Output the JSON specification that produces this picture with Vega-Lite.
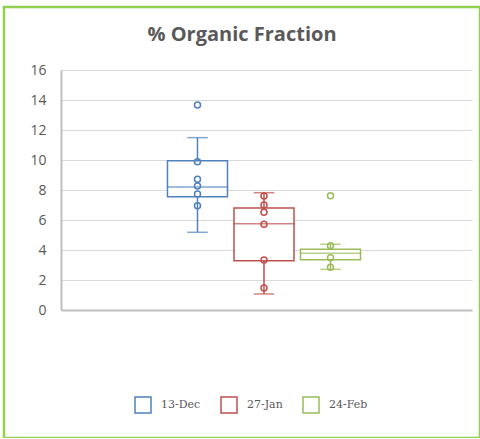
{
  "$schema": "https://vega.github.io/schema/vega-lite/v6.json",
  "autosize": "none",
  "padding": {"left": 4, "top": 7, "right": 0, "bottom": 0},
  "width": 476,
  "height": 431,
  "background": "white",
  "config": {
    "view": {"stroke": "#92D050", "strokeWidth": 2.5, "fill": "white"},
    "font": "Open Sans",
    "legend": {
      "title": null,
      "orient": "none",
      "legendX": 130,
      "legendY": 389,
      "direction": "horizontal",
      "padding": 0,
      "symbolType": "square",
      "symbolSize": 256,
      "symbolStrokeWidth": 1.5,
      "symbolFillColor": "white",
      "labelFont": "DejaVu Serif",
      "labelFontSize": 11,
      "labelColor": "#595959",
      "labelOffset": 9,
      "columnPadding": 17
    }
  },
  "title": {
    "text": "% Organic Fraction",
    "font": "Open Sans",
    "fontSize": 20,
    "fontWeight": "bold",
    "color": "#595959",
    "anchor": "middle",
    "frame": "group",
    "offset": -38
  },
  "datasets": {
    "boxes": [
      {"date": "13-Dec", "lo": 5.18, "q1": 7.55, "median": 8.2, "q3": 9.95, "hi": 11.49},
      {"date": "27-Jan", "lo": 1.07, "q1": 3.29, "median": 5.75, "q3": 6.8, "hi": 7.82},
      {"date": "24-Feb", "lo": 2.71, "q1": 3.35, "median": 3.78, "q3": 4.05, "hi": 4.38}
    ],
    "points": [
      {"date": "13-Dec", "value": 13.67},
      {"date": "13-Dec", "value": 9.89},
      {"date": "13-Dec", "value": 8.71},
      {"date": "13-Dec", "value": 8.27},
      {"date": "13-Dec", "value": 7.73},
      {"date": "13-Dec", "value": 6.95},
      {"date": "27-Jan", "value": 7.6},
      {"date": "27-Jan", "value": 7.0},
      {"date": "27-Jan", "value": 6.51},
      {"date": "27-Jan", "value": 5.71},
      {"date": "27-Jan", "value": 3.33},
      {"date": "27-Jan", "value": 1.47},
      {"date": "24-Feb", "value": 7.62},
      {"date": "24-Feb", "value": 4.29},
      {"date": "24-Feb", "value": 3.49},
      {"date": "24-Feb", "value": 2.85}
    ]
  },
  "encoding": {
    "x": {
      "field": "date",
      "type": "nominal",
      "scale": {
        "type": "band",
        "domain": ["_left", "13-Dec", "27-Jan", "24-Feb", "_right"],
        "range": [57, 468],
        "paddingInner": 0,
        "paddingOuter": 0.59,
        "align": 0.468
      },
      "axis": {
        "orient": "bottom",
        "offset": -128,
        "labels": false,
        "ticks": false,
        "title": null,
        "grid": false,
        "domainColor": "#BFBFBF",
        "domainWidth": 2
      }
    },
    "stroke": {
      "field": "date",
      "type": "nominal",
      "scale": {"domain": ["13-Dec", "27-Jan", "24-Feb"], "range": ["#4F81BD", "#C0504D", "#9BBB59"]}
    }
  },
  "layer": [
    {
      "data": {"name": "boxes"},
      "mark": {"type": "rule", "strokeWidth": 1.5},
      "encoding": {
        "y": {
          "field": "lo",
          "type": "quantitative",
          "scale": {"domain": [0, 16], "range": [303, 63], "nice": false, "zero": true},
          "axis": {
            "orient": "left",
            "offset": -57,
            "values": [0, 2, 4, 6, 8, 10, 12, 14, 16],
            "title": null,
            "grid": true,
            "gridColor": "#D9D9D9",
            "gridWidth": 1,
            "ticks": false,
            "domainColor": "#BFBFBF",
            "domainWidth": 2,
            "labelPadding": 15,
            "labelColor": "#595959",
            "labelFont": "Open Sans",
            "labelFontSize": 14
          }
        },
        "y2": {"field": "hi"}
      }
    },
    {
      "data": {"name": "boxes"},
      "mark": {"type": "bar", "size": 60, "fill": "white", "strokeWidth": 1.5},
      "encoding": {
        "y": {"field": "q1", "type": "quantitative"},
        "y2": {"field": "q3"}
      }
    },
    {
      "data": {"name": "boxes"},
      "mark": {"type": "tick", "size": 60, "thickness": 0.01, "filled": false, "strokeWidth": 1.5},
      "encoding": {
        "y": {"field": "median", "type": "quantitative"}
      }
    },
    {
      "data": {"name": "boxes"},
      "mark": {"type": "tick", "size": 19, "thickness": 0.01, "filled": false, "strokeWidth": 1.5},
      "encoding": {
        "y": {"field": "lo", "type": "quantitative"}
      }
    },
    {
      "data": {"name": "boxes"},
      "mark": {"type": "tick", "size": 19, "thickness": 0.01, "filled": false, "strokeWidth": 1.5},
      "encoding": {
        "y": {"field": "hi", "type": "quantitative"}
      }
    },
    {
      "data": {"name": "points"},
      "mark": {"type": "point", "shape": "circle", "size": 36, "strokeWidth": 1.5, "filled": false, "opacity": 1},
      "encoding": {
        "y": {"field": "value", "type": "quantitative"}
      }
    }
  ]
}
